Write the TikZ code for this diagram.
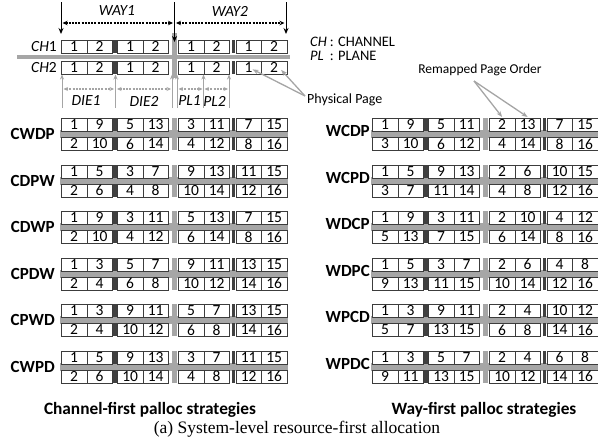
\documentclass[tikz,border=0pt]{standalone}
\usepackage{fontspec}
\setmainfont{Carlito}
\newfontfamily\capfont{Liberation Serif}
\usetikzlibrary{arrows.meta}
\definecolor{bandgray}{RGB}{166,166,166}
\definecolor{bargray}{RGB}{64,64,64}
\definecolor{boxline}{RGB}{60,60,60}
\definecolor{tipgray}{RGB}{165,165,165}

% one row of 8 pages: name, x, y, numbers
\newcommand\pagerow[4]{%
  \foreach \n [count=\i] in {#4} {
    \pgfmathsetmacro\ox{{0,25.5,56,81.5,117,142.5,174.5,200}[\i-1]}
    \node[pg] (#1-\i) at (#2+\ox,#3) {\n};
  }
  \fill[bargray] (#2+51.8,#3) rectangle (#2+55.6,#3+13);
  \fill[bargray] (#2+170.5,#3) rectangle (#2+174.3,#3+13);
}
% one strategy: name, x, y, first row, second row
\newcommand\strategy[5]{%
  \fill[bandgray] (#2-1,#3+12) rectangle (#2+226.5,#3+20);
  \fill[bandgray] (#2+111,#3) rectangle (#2+116,#3+32);
  \pagerow{#1-1}{#2}{#3}{#4}
  \pagerow{#1-2}{#2}{#3+19}{#5}
}

\begin{document}
\begin{tikzpicture}[x=1pt,y=-1pt,font=\fontsize{15.5}{16}\selectfont,
        pg/.style={draw=boxline,fill=white,line width=0.75pt,minimum width=25.5pt,
          minimum height=13pt,inner sep=0pt,anchor=north west,font=\fontsize{15.5}{15.5}\selectfont},
        slabel/.style={anchor=east,inner sep=0pt,font=\bfseries\fontsize{17}{17}\selectfont},
        title/.style={inner sep=0pt,font=\bfseries\fontsize{17.3}{17.3}\selectfont},
        lbl/.style={inner sep=0pt},
        wayarr/.style={{Stealth[length=5pt,width=4.5pt]}-{Stealth[length=5pt,width=4.5pt]},line width=1.1pt,dash pattern=on 2pt off 1.2pt},
        darr/.style={-{Stealth[length=6pt,width=5pt]},line width=1pt},
        gup/.style={-{Stealth[length=5pt,width=4pt]},tipgray,line width=1pt},
        gway/.style={{Stealth[length=4.5pt,width=4pt]}-{Stealth[length=4.5pt,width=4pt]},tipgray,line width=1.1pt,dash pattern=on 2pt off 1.2pt},
        garr/.style={-{Stealth[length=6pt,width=4.5pt]},tipgray,line width=1.3pt}]
  \useasboundingbox (0,0) rectangle (598,442);

  % channel / way / die / plane layout
  \fill[bandgray] (17,54.5) rectangle (290,59);
  \fill[bandgray] (172,33) rectangle (177,78);
  \pagerow{ch1}{61}{40}{1,2,1,2,1,2,1,2}
  \pagerow{ch2}{61}{61}{1,2,1,2,1,2,1,2}
  \node[lbl,anchor=east] (ch1) at (57,46.5) {\textit{CH}1};
  \node[lbl,anchor=east] (ch2) at (57,67.5) {\textit{CH}2};

  \coordinate (wl) at (61,2);   \coordinate (wl-e) at (61,34);
  \coordinate (wm) at (174.5,2); \coordinate (wm-e) at (174.5,42);
  \coordinate (wr) at (286,2);  \coordinate (wr-e) at (286,34);
  \draw[darr] (wl) -- (wl-e);
  \draw[darr] (wm) -- (wm-e);
  \draw[darr] (wr) -- (wr-e);
  \coordinate (way1-l) at (62.5,23); \coordinate (way1-r) at (173,23);
  \coordinate (way2-l) at (176,23); \coordinate (way2-r) at (284.5,23);
  \draw[wayarr] (way1-l) -- (way1-r);
  \draw[wayarr] (way2-l) -- (way2-r);
  \node[lbl] (way1) at (117,11) {\itshape WAY1};
  \node[lbl] (way2) at (230,11) {\itshape WAY2};

  \foreach \x [count=\k] in {62,115.5,172,177,203.5,229} {
    \coordinate (u\k) at (\x,108);
    \coordinate (v\k) at (\x,74.5);
    \draw[gup] (u\k) -- (v\k);
  }
  \coordinate (die1-l) at (63.5,89); \coordinate (die1-r) at (114,89);
  \coordinate (die2-l) at (117,89); \coordinate (die2-r) at (171,89);
  \coordinate (pl1-l) at (178.5,89); \coordinate (pl1-r) at (202.5,89);
  \coordinate (pl2-l) at (204.5,89); \coordinate (pl2-r) at (228,89);
  \draw[gway] (die1-l) -- (die1-r);
  \draw[gway] (die2-l) -- (die2-r);
  \draw[gway] (pl1-l) -- (pl1-r);
  \draw[gway] (pl2-l) -- (pl2-r);
  \node[lbl] (die1) at (86,101) {\itshape DIE1};
  \node[lbl] (die2) at (144,101) {\itshape DIE2};
  \node[lbl] (pl1) at (189.5,101) {\itshape PL1};
  \node[lbl] (pl2) at (214.5,101) {\itshape PL2};

  % legend and pointers
  \node[lbl,anchor=west,font=\fontsize{14.5}{14.5}\selectfont] (legch) at (310,41.5)
    {\makebox[1.35em][l]{\textit{CH}}: CHANNEL};
  \node[lbl,anchor=west,font=\fontsize{14.5}{14.5}\selectfont] (legpl) at (310,56)
    {\makebox[1.35em][l]{\textit{PL}}: PLANE};
  \node[lbl,anchor=west,font=\fontsize{14}{14}\selectfont] (phys) at (307,100) {Physical Page};
  \coordinate (phys-s) at (305,96);
  \draw[garr] (phys-s) -- ([xshift=4pt,yshift=-1.5pt]ch2-7.center);
  \draw[garr] (phys-s) -- ([xshift=7pt,yshift=-2pt]ch2-8.center);
  \node[lbl,font=\fontsize{13.5}{13.5}\selectfont] (remap) at (480,70) {Remapped Page Order};
  \coordinate (remap-s) at (474,81);

  % channel-first
  \strategy{cwdp}{61}{118}{1,9,5,13,3,11,7,15}{2,10,6,14,4,12,8,16}
  \strategy{cdpw}{61}{164.5}{1,5,3,7,9,13,11,15}{2,6,4,8,10,14,12,16}
  \strategy{cdwp}{61}{211}{1,9,3,11,5,13,7,15}{2,10,4,12,6,14,8,16}
  \strategy{cpdw}{61}{257.5}{1,3,5,7,9,11,13,15}{2,4,6,8,10,12,14,16}
  \strategy{cpwd}{61}{304}{1,3,9,11,5,7,13,15}{2,4,10,12,6,8,14,16}
  \strategy{cwpd}{61}{350.5}{1,5,9,13,3,7,11,15}{2,6,10,14,4,8,12,16}
  \node[slabel] (l-cwdp) at (55,134) {CWDP};
  \node[slabel] (l-cdpw) at (55,180.5) {CDPW};
  \node[slabel] (l-cdwp) at (55,227) {CDWP};
  \node[slabel] (l-cpdw) at (55,273.5) {CPDW};
  \node[slabel] (l-cpwd) at (55,320) {CPWD};
  \node[slabel] (l-cwpd) at (55,366.5) {CWPD};

  % way-first
  \strategy{wcdp}{372}{118}{1,9,5,11,2,13,7,15}{3,10,6,12,4,14,8,16}
  \strategy{wcpd}{372}{164.5}{1,5,9,13,2,6,10,15}{3,7,11,14,4,8,12,16}
  \strategy{wdcp}{372}{211}{1,9,3,11,2,10,4,12}{5,13,7,15,6,14,8,16}
  \strategy{wdpc}{372}{257.5}{1,5,3,7,2,6,4,8}{9,13,11,15,10,14,12,16}
  \strategy{wpcd}{372}{304}{1,3,9,11,2,4,10,12}{5,7,13,15,6,8,14,16}
  \strategy{wpdc}{372}{350.5}{1,3,5,7,2,4,6,8}{9,11,13,15,10,12,14,16}
  \node[slabel] (l-wcdp) at (370,131) {WCDP};
  \node[slabel] (l-wcpd) at (370,177.5) {WCPD};
  \node[slabel] (l-wdcp) at (370,224) {WDCP};
  \node[slabel] (l-wdpc) at (370,270.5) {WDPC};
  \node[slabel] (l-wpcd) at (370,317) {WPCD};
  \node[slabel] (l-wpdc) at (370,363.5) {WPDC};

  \draw[garr] (remap-s) -- ([yshift=1pt]wcdp-1-5.north);
  \draw[garr] (remap-s) -- ([yshift=1pt]wcdp-1-6.north);

  \node[title] (t-chan) at (150,410) {Channel-first palloc strategies};
  \node[title] (t-way) at (484,410) {Way-first palloc strategies};
  \node[lbl,font=\capfont\fontsize{17.5}{18}\selectfont] (caption) at (297,429) {(a) System-level resource-first allocation};
\end{tikzpicture}
\end{document}
